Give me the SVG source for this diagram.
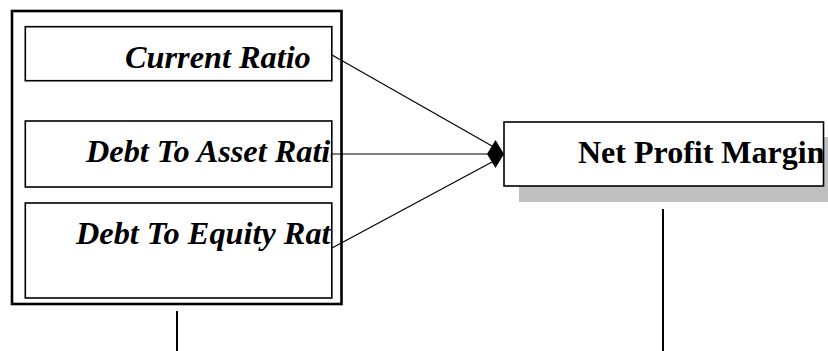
<svg xmlns="http://www.w3.org/2000/svg" width="828" height="351" viewBox="0 0 828 351">
<style>
.box{fill:#fff;stroke:#000;stroke-width:1.6}
.outer{fill:#fff;stroke:#000;stroke-width:2.6}
.lt{font-family:"Liberation Serif","Times New Roman",serif;font-weight:bold;font-style:italic;font-size:32.3px;fill:#000}
.rt{font-family:"Liberation Serif","Times New Roman",serif;font-weight:bold;font-size:32px;fill:#000}
.con{stroke:#000;stroke-width:1.2;fill:none}
.vl{stroke:#000;stroke-width:2;fill:none}
</style>
<defs>
<clipPath id="c1"><rect x="25" y="27" width="307" height="54"/></clipPath>
<clipPath id="c2"><rect x="25" y="121" width="307" height="66"/></clipPath>
<clipPath id="c3"><rect x="25" y="203" width="307" height="95"/></clipPath>
<clipPath id="c4"><rect x="504" y="122" width="320" height="64"/></clipPath>
</defs>
<g id="group-left">
<rect class="outer" x="12" y="11" width="329.5" height="293"/>
</g>
<g id="node-current-ratio">
<rect class="box" x="25.3" y="26.7" width="306.5" height="54"/>
<text class="lt" x="125" y="68" clip-path="url(#c1)">Current Ratio</text>
</g>
<g id="node-debt-asset">
<rect class="box" x="25.3" y="121" width="306.5" height="66"/>
<text class="lt" x="86" y="162" clip-path="url(#c2)">Debt To Asset Ratio</text>
</g>
<g id="node-debt-equity">
<rect class="box" x="25.3" y="203" width="306.5" height="95"/>
<text class="lt" x="76" y="244" clip-path="url(#c3)">Debt To Equity Ratio</text>
</g>
<g id="node-npm">
<rect x="519" y="137" width="320" height="65" fill="#c0c0c0"/>
<rect class="box" x="504" y="122" width="319.5" height="64"/>
<text class="rt" x="578" y="163" clip-path="url(#c4)">Net Profit Margin</text>
</g>
<g id="connectors">
<line class="con" x1="332" y1="55" x2="492" y2="146"/>
<line class="con" x1="332" y1="154" x2="488" y2="154"/>
<line class="con" x1="332" y1="248" x2="492" y2="162"/>
<polygon points="487,154 495.5,140 504,154 495.5,168" fill="#000"/>
<line class="vl" x1="177" y1="311" x2="177" y2="351"/>
<line class="vl" x1="663" y1="209" x2="663" y2="351"/>
</g>
</svg>
